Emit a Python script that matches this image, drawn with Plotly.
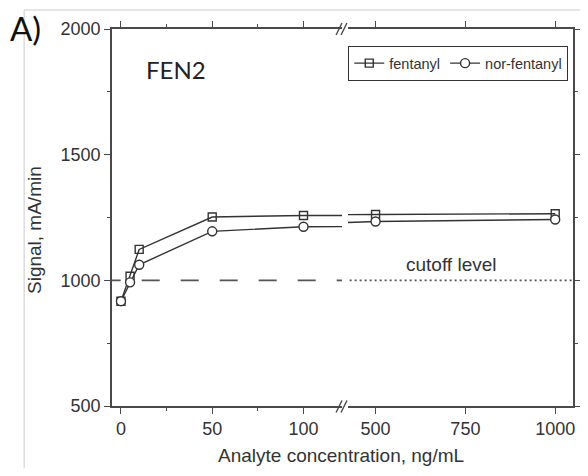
import plotly.graph_objects as go

# ---- data ----
conc = [0, 5, 10, 50, 100, 500, 1000]
fentanyl = [917, 1016, 1123, 1252, 1258, 1262, 1265]
nor_fentanyl = [917, 992, 1062, 1195, 1213, 1234, 1242]
cutoff = 1000
left_ticks = [0, 50, 100]
right_ticks = [500, 750, 1000]
y_ticks = [500, 1000, 1500, 2000]

# page body has an 8px margin; keep the figure inside the 588x476 window
OFF = 8
W, H = 588 - 2 * OFF, 476 - 2 * OFF
RIGHT_AXIS = 579  # page pixel of right axis line
L = 112 - OFF
T = 29 - OFF
R = W - (RIGHT_AXIS - OFF)
B = H - (406 - OFF)
PW, PH = W - L - R, H - T - B


def px(x):
    return (x - OFF - L) / PW


def py(y):
    return (H - B - (y - OFF)) / PH


AX = "#4a4a4a"
LN = "#333333"
FONT = "Liberation Sans, Arial, sans-serif"

fig = go.Figure()

for axes, show in (("x", True), ("x2", False)):
    ya = "y" if axes == "x" else "y2"
    fig.add_trace(go.Scatter(
        x=conc, y=fentanyl, xaxis=axes, yaxis=ya, name="fentanyl",
        mode="lines+markers", showlegend=show, legendrank=1,
        line=dict(color=LN, width=1.4),
        marker=dict(symbol="square-open", size=8, color=LN, line=dict(width=1.4, color=LN)),
    ))
    fig.add_trace(go.Scatter(
        x=conc, y=nor_fentanyl, xaxis=axes, yaxis=ya, name="nor-fentanyl",
        mode="lines+markers", showlegend=show, legendrank=2,
        line=dict(color=LN, width=1.4),
        marker=dict(symbol="circle", size=9, color="white", line=dict(width=1.4, color=LN)),
    ))

# cutoff level lines
fig.add_trace(go.Scatter(x=[-10, 130], y=[cutoff, cutoff], xaxis="x", yaxis="y",
                         mode="lines", showlegend=False,
                         line=dict(color="#555555", width=1.6, dash="18px,21px")))
fig.add_trace(go.Scatter(x=[400, 1100], y=[cutoff, cutoff], xaxis="x2", yaxis="y2",
                         mode="lines", showlegend=False,
                         line=dict(color="#555555", width=1.6, dash="2px,3px")))

tickfont = dict(family=FONT, size=18, color="#333333")
common_x = dict(showline=True, linecolor=AX, linewidth=1.6, mirror="allticks",
                ticks="outside", ticklen=6, tickwidth=1.4, tickcolor=AX,
                showgrid=False, zeroline=False, tickfont=tickfont, fixedrange=True)

fig.update_layout(
    width=W, height=H,
    margin=dict(l=L, r=R, t=T, b=B),
    paper_bgcolor="white", plot_bgcolor="white",
    font=dict(family=FONT, color="#333333"),
    xaxis=dict(domain=[0, px(345)], range=[-4.9, 121.1], tickmode="array",
               tickvals=left_ticks, anchor="y",
               minor=dict(dtick=25, ticks="outside", ticklen=3, tickwidth=1.2, tickcolor=AX, showgrid=False),
               **common_x),
    xaxis2=dict(domain=[px(351), 1], range=[423.1, 1049.5], tickmode="array",
                tickvals=right_ticks, anchor="y2", **common_x),
    yaxis=dict(domain=[0, 1], range=[500, 2000], tickmode="array", tickvals=y_ticks,
               anchor="x", showline=True, linecolor=AX, linewidth=1.6, mirror=False,
               ticks="outside", ticklen=6, tickwidth=1.4, tickcolor=AX,
               minor=dict(dtick=250, ticks="outside", ticklen=3, tickwidth=1.2, tickcolor=AX, showgrid=False),
               showgrid=False, zeroline=False, tickfont=tickfont, fixedrange=True),
    yaxis2=dict(domain=[0, 1], range=[500, 2000], matches="y", anchor="x2", side="right",
                tickmode="array", tickvals=y_ticks, showticklabels=False,
                showline=True, linecolor=AX, linewidth=1.6, mirror=False,
                ticks="outside", ticklen=6, tickwidth=1.4, tickcolor=AX,
                minor=dict(dtick=250, ticks="outside", ticklen=3, tickwidth=1.2, tickcolor=AX, showgrid=False),
                showgrid=False, zeroline=False, fixedrange=True),
    legend=dict(orientation="h", x=px(574), xanchor="right", y=py(46), yanchor="top",
                bordercolor="#333333", borderwidth=1.2, bgcolor="white",
                font=dict(family=FONT, size=14.5, color="#333333"),
                itemwidth=30, tracegroupgap=0, traceorder="normal"),
    showlegend=True,
)

# annotations
fig.add_annotation(xref="paper", yref="paper", x=px(344), y=py(455), text="Analyte concentration, ng/mL",
                   showarrow=False, xanchor="center", yanchor="middle",
                   font=dict(family=FONT, size=19, color="#333333"))
fig.add_annotation(xref="paper", yref="paper", x=px(33), y=py(230), text="Signal, mA/min",
                   showarrow=False, textangle=-90, xanchor="center", yanchor="middle",
                   font=dict(family=FONT, size=19, color="#333333"))
fig.add_annotation(xref="x2", yref="y", x=710, y=1065, text="cutoff level",
                   showarrow=False, xanchor="center", yanchor="middle",
                   font=dict(family=FONT, size=19, color="#333333"))
fig.add_annotation(xref="paper", yref="paper", x=px(177), y=py(69), text="FEN2",
                   showarrow=False, xanchor="center", yanchor="middle",
                   font=dict(family="Lato, Noto Sans, sans-serif", size=24, color="#222222"))
fig.add_annotation(xref="paper", yref="paper", x=px(24), y=py(28), text="A)",
                   showarrow=False, xanchor="center", yanchor="middle",
                   font=dict(family="Lato, Noto Sans, sans-serif", size=33, color="#111111"))

# outer frame (gray border of the image)
fig.add_shape(type="line", xref="paper", yref="paper", x0=px(23), x1=px(590), y0=py(10), y1=py(10),
              line=dict(color="#cccccc", width=1))
fig.add_shape(type="line", xref="paper", yref="paper", x0=px(23), x1=px(23), y0=py(10), y1=py(476),
              line=dict(color="#cccccc", width=1))

# axis break marks "//"
for yc in (29, 406.5):
    for xc in (342, 347):
        fig.add_shape(type="line", xref="paper", yref="paper",
                      x0=px(xc - 3), x1=px(xc + 3), y0=py(yc + 6), y1=py(yc - 6),
                      line=dict(color=AX, width=1.4))

fig.write_html("out.html")
